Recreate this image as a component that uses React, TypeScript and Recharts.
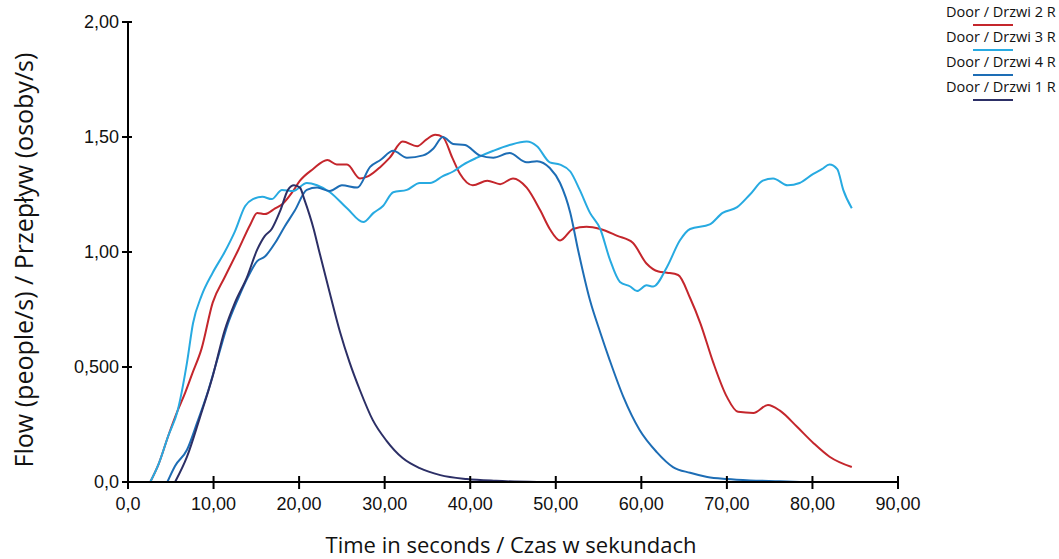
import { Line, LineChart, XAxis, YAxis } from "recharts";

const xTicks = [0, 10, 20, 30, 40, 50, 60, 70, 80, 90];
const xTickLabels = ["0,0", "10,00", "20,00", "30,00", "40,00", "50,00", "60,00", "70,00", "80,00", "90,00"];
const yTicks = [0, 0.5, 1, 1.5, 2];
const yTickLabels = ["0,0", "0,500", "1,00", "1,50", "2,00"];

// Door / Drzwi 2 R
const door2Time = [2.6, 3.6, 4.7, 5.8, 6.7, 7.5, 8.6, 9.9, 11.3, 12.9, 14.3, 15.1, 16.0, 17.2, 18.1, 19.2, 20.1, 21.6, 23.3, 24.4, 25.6, 27.1, 28.1, 29.5, 30.6, 32.1, 33.8, 34.9, 35.9, 36.8, 37.9, 38.8, 40.3, 42.0, 43.5, 45.0, 46.6, 48.2, 49.3, 50.5, 52.0, 53.6, 55.2, 57.2, 59.0, 60.6, 62.0, 63.0, 64.3, 65.7, 66.9, 68.4, 70.0, 71.3, 73.1, 74.8, 76.2, 78.2, 80.1, 82.0, 84.6];
const door2Flow = [0, 0.08, 0.2, 0.31, 0.39, 0.47, 0.58, 0.78, 0.89, 1.01, 1.12, 1.17, 1.165, 1.19, 1.21, 1.26, 1.31, 1.36, 1.4, 1.38, 1.38, 1.32, 1.33, 1.37, 1.41, 1.48, 1.46, 1.49, 1.51, 1.5, 1.41, 1.34, 1.29, 1.31, 1.295, 1.32, 1.28, 1.18, 1.1, 1.05, 1.1, 1.11, 1.1, 1.07, 1.04, 0.95, 0.915, 0.91, 0.9, 0.8, 0.69, 0.52, 0.37, 0.305, 0.3, 0.335, 0.31, 0.24, 0.17, 0.11, 0.065];

// Door / Drzwi 3 R
const door3Time = [2.6, 3.6, 4.7, 5.8, 6.9, 7.6, 8.6, 9.9, 11.3, 12.5, 13.7, 14.6, 15.7, 16.8, 18.0, 19.3, 20.9, 22.1, 23.6, 25.6, 27.5, 28.7, 29.8, 31.0, 32.6, 34.1, 35.3, 36.8, 38.0, 39.2, 40.8, 42.7, 44.6, 46.6, 47.8, 49.3, 50.5, 51.7, 52.8, 54.0, 55.2, 56.3, 57.5, 58.7, 59.5, 60.6, 61.4, 63.0, 64.5, 65.7, 68.0, 69.5, 71.2, 72.7, 74.2, 75.4, 77.1, 78.5, 80.1, 81.1, 82.0, 82.9, 83.6, 84.6];
const door3Flow = [0, 0.08, 0.2, 0.31, 0.52, 0.69, 0.81, 0.91, 1.0, 1.09, 1.2, 1.23, 1.24, 1.23, 1.27, 1.265, 1.3, 1.29, 1.26, 1.19, 1.13, 1.17, 1.2, 1.26, 1.27, 1.3, 1.3, 1.33, 1.35, 1.38, 1.41, 1.44, 1.465, 1.48, 1.46, 1.39, 1.38, 1.35, 1.27, 1.17, 1.1, 0.97, 0.87, 0.85, 0.83, 0.855, 0.85, 0.935, 1.05, 1.1, 1.12, 1.17, 1.195, 1.25, 1.31, 1.32, 1.29, 1.3, 1.34, 1.36, 1.38, 1.36, 1.27, 1.19];

// Door / Drzwi 4 R
const door4Time = [4.6, 5.5, 6.9, 8.1, 9.4, 10.5, 11.7, 12.9, 14.0, 15.1, 16.0, 17.2, 18.3, 19.5, 20.9, 22.1, 23.6, 25.0, 26.8, 28.3, 29.5, 31.0, 32.6, 34.5, 35.7, 36.8, 38.0, 39.4, 41.1, 42.7, 44.6, 46.6, 47.8, 49.3, 50.5, 51.7, 52.6, 54.0, 55.2, 56.3, 57.9, 59.8, 61.8, 63.7, 65.7, 67.7, 70.0, 72.7, 76.2, 78.5];
const door4Flow = [0, 0.07, 0.14, 0.26, 0.4, 0.54, 0.69, 0.8, 0.89, 0.96, 0.98, 1.04, 1.11, 1.18, 1.27, 1.28, 1.265, 1.29, 1.28, 1.37, 1.4, 1.44, 1.41, 1.42, 1.45, 1.5, 1.47, 1.465, 1.42, 1.41, 1.43, 1.39, 1.395, 1.365, 1.3, 1.17, 1.01, 0.79, 0.65, 0.53, 0.37, 0.226, 0.13, 0.065, 0.04, 0.022, 0.013, 0.007, 0.003, 0];

// Door / Drzwi 1 R
const door1Time = [5.5, 6.9, 8.4, 9.9, 11.3, 12.5, 13.9, 15.1, 16.0, 16.8, 17.8, 18.7, 19.4, 20.1, 20.6, 21.7, 22.3, 23.6, 24.8, 25.9, 27.1, 28.6, 30.2, 32.1, 34.1, 36.5, 39.6, 43.0, 47.8];
const door1Flow = [0, 0.11, 0.28, 0.46, 0.66, 0.78, 0.89, 1.01, 1.07, 1.1, 1.18, 1.27, 1.29, 1.28, 1.23, 1.1, 1.01, 0.82, 0.65, 0.52, 0.4, 0.27, 0.18, 0.104, 0.06, 0.03, 0.013, 0.005, 0];

const seriesNames = ["Door / Drzwi 2 R", "Door / Drzwi 3 R", "Door / Drzwi 4 R", "Door / Drzwi 1 R"];
const seriesColors = ["#c4262c", "#27aae1", "#1d6db5", "#2c2f66"];

const toPoints = (time: number[], flow: number[]) => time.map((t, i) => ({ t, flow: flow[i] }));

const series = [
  toPoints(door2Time, door2Flow),
  toPoints(door3Time, door3Flow),
  toPoints(door4Time, door4Flow),
  toPoints(door1Time, door1Flow),
];

const PLOT_LEFT = 128;
const PLOT_BOTTOM = 482;
const tickFont = "'Liberation Sans', Arial, sans-serif";
const titleFont = "'Open Sans', sans-serif";

function XTick(props: any) {
  const { x, payload } = props;
  const label = xTickLabels[xTicks.indexOf(payload.value)];
  return (
    <g>
      <line x1={x} x2={x} y1={PLOT_BOTTOM - 6} y2={PLOT_BOTTOM + 7} stroke="#000" strokeWidth={2} />
      <text x={x} y={PLOT_BOTTOM + 28} textAnchor="middle" fontSize={18} fontFamily={tickFont} fill="#111">
        {label}
      </text>
    </g>
  );
}

function YTick(props: any) {
  const { y, payload } = props;
  const label = yTickLabels[yTicks.indexOf(payload.value)];
  return (
    <g>
      <line x1={PLOT_LEFT - 6} x2={PLOT_LEFT + 4} y1={y} y2={y} stroke="#000" strokeWidth={2} />
      <text x={PLOT_LEFT - 9} y={y + 6} textAnchor="end" fontSize={18} fontFamily={tickFont} fill="#111">
        {label}
      </text>
    </g>
  );
}

export default function App() {
  return (
    <div style={{ position: "absolute", left: 0, top: 0, width: 1059, height: 559, background: "#fff" }}>
      <LineChart width={1059} height={559} margin={{ top: 22, right: 161, bottom: 0, left: 0 }}>
        <XAxis
          type="number"
          dataKey="t"
          domain={[0, 90]}
          ticks={xTicks}
          height={77}
          axisLine={{ stroke: "#000", strokeWidth: 2 }}
          tickLine={false}
          tick={<XTick />}
          interval={0}
        />
        <YAxis
          type="number"
          domain={[0, 2]}
          ticks={yTicks}
          width={128}
          axisLine={{ stroke: "#000", strokeWidth: 2 }}
          tickLine={false}
          tick={<YTick />}
          interval={0}
        />
        {series.map((points, i) => (
          <Line
            key={seriesNames[i]}
            data={points}
            dataKey="flow"
            name={seriesNames[i]}
            type="monotone"
            stroke={seriesColors[i]}
            strokeWidth={2}
            dot={false}
            isAnimationActive={false}
          />
        ))}
      </LineChart>

      <div
        style={{
          position: "absolute",
          left: 23,
          top: 260,
          transform: "translate(-50%, -50%) rotate(-90deg)",
          whiteSpace: "nowrap",
          fontFamily: titleFont,
          fontSize: 25,
          color: "#111",
        }}
      >
        Flow (people/s) / Przepływ (osoby/s)
      </div>
      <div
        style={{
          position: "absolute",
          left: 511,
          top: 544,
          transform: "translate(-50%, -50%)",
          whiteSpace: "nowrap",
          fontFamily: titleFont,
          fontSize: 22,
          color: "#111",
        }}
      >
        Time in seconds / Czas w sekundach
      </div>

      {seriesNames.map((name, i) => (
        <div key={name}>
          <div
            style={{
              position: "absolute",
              left: 946,
              top: 3 + i * 25,
              fontFamily: titleFont,
              fontSize: 14.5,
              lineHeight: "18px",
              whiteSpace: "nowrap",
              color: "#111",
            }}
          >
            {name}
          </div>
          <div
            style={{
              position: "absolute",
              left: 973,
              top: 24 + i * 25,
              width: 40,
              height: 2,
              background: seriesColors[i],
            }}
          />
        </div>
      ))}
    </div>
  );
}
